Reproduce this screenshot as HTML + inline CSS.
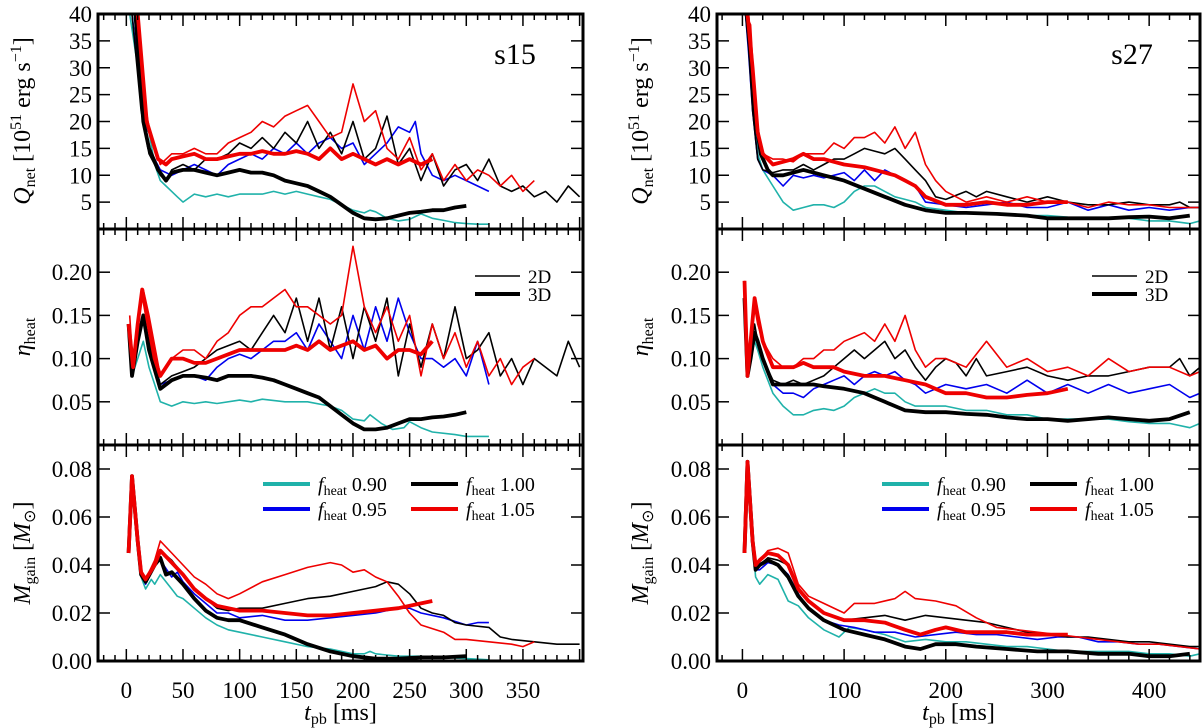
<!DOCTYPE html>
<html><head><meta charset="utf-8"><style>
html,body{margin:0;padding:0;background:#fff;}
svg{display:block;font-family:"Liberation Serif",serif;}
</style></head><body>
<svg id="fig" width="1203" height="728" viewBox="0 0 1203 728" xmlns="http://www.w3.org/2000/svg"></svg>
<script>
// ---------- data (t in ms, value) ----------
const s15_Q_c09=[[3,40],[8,33],[12,28],[16,19],[20,18],[25,12],[30,9],[35,8],[40,7],[45,6],[50,5],[60,6.5],[70,6],[80,6.5],[90,6],[100,6.5],[110,6.5],[120,6.5],[130,7],[140,6.5],[150,7],[160,6.5],[170,6],[180,5.5],[190,4.5],[200,3.5],[210,3],[215,3.5],[220,3.2],[230,2],[240,1.5],[250,1.8],[260,2.8],[270,2],[280,1.6],[290,1.2],[300,1],[310,0.9],[320,0.9]];
const s15_Q_c095=[[5,40],[13,25],[20,15],[30,11],[40,10],[50,11],[60,12],[70,11],[80,10],[90,12],[100,13],[110,14],[120,13],[130,15],[140,14],[150,16],[160,14],[170,16],[180,17],[190,15],[200,16],[210,12],[220,14],[230,16],[240,19],[250,18],[255,20],[260,14],[270,10],[280,9],[290,10],[300,9],[310,8],[320,7]];
const s15_Q_c100=[[5,40],[13,22],[20,14],[30,10],[35,9],[40,11],[50,12],[60,11],[70,13],[80,13],[90,14],[100,16],[110,15],[120,17],[130,15],[140,18],[150,16],[160,20],[170,15],[180,18],[190,14],[200,20],[210,13],[220,15],[230,21],[240,12],[250,15],[260,9],[270,14],[280,8],[290,11],[300,12],[310,9],[320,13],[330,8],[340,7],[350,8],[360,6],[370,7],[380,5],[390,8],[400,6]];
const s15_Q_c105=[[8,40],[15,25],[20,19],[30,12],[40,14],[50,14],[60,15],[70,14],[80,14],[90,16],[100,17],[110,18],[120,20],[130,19],[140,21],[150,22],[160,23],[170,20],[180,17],[190,18],[200,27],[210,20],[220,22],[230,15],[240,13],[250,17],[260,11],[270,14],[280,9],[290,12],[300,9],[310,11],[320,10],[330,8],[340,10],[350,7],[360,9]];
const s15_Q_3d100=[[8,40],[15,20],[20,15],[28,11],[35,9],[40,10.5],[50,11],[60,11],[70,10.5],[80,10],[90,10.5],[100,11],[110,10.5],[120,10.5],[130,10],[140,9],[150,8.5],[160,8],[170,7],[180,6],[190,4.5],[200,3],[210,2],[220,1.8],[230,2],[240,2.5],[250,3],[260,3.2],[270,3.5],[280,3.5],[290,4],[300,4.3]];
const s15_Q_3d105=[[10,40],[14,30],[18,20],[28,13],[35,12],[40,13],[50,13.5],[60,14],[70,13],[80,13],[90,13.5],[100,14],[110,14],[120,14.5],[130,14],[140,14],[150,14.5],[160,14],[170,13],[180,15],[190,13],[200,14],[210,13],[220,12],[230,13],[240,12],[250,13],[260,12],[270,13]];
const s15_E_c09=[[2,0.14],[5,0.08],[10,0.1],[15,0.12],[20,0.09],[25,0.07],[30,0.05],[40,0.045],[50,0.05],[60,0.048],[70,0.05],[80,0.048],[100,0.052],[110,0.05],[120,0.053],[140,0.05],[160,0.05],[180,0.045],[190,0.04],[200,0.03],[210,0.028],[215,0.035],[225,0.025],[235,0.018],[245,0.02],[250,0.027],[260,0.02],[270,0.015],[290,0.012],[300,0.01],[320,0.01]];
const s15_E_c095=[[2,0.14],[5,0.08],[10,0.13],[15,0.15],[20,0.12],[30,0.07],[40,0.075],[50,0.08],[60,0.08],[70,0.075],[80,0.09],[90,0.1],[100,0.105],[110,0.1],[120,0.11],[130,0.12],[140,0.12],[150,0.13],[160,0.11],[170,0.14],[180,0.12],[190,0.1],[200,0.15],[210,0.11],[220,0.16],[230,0.12],[240,0.17],[250,0.13],[260,0.1],[270,0.1],[280,0.09],[290,0.1],[300,0.08],[310,0.12],[320,0.07]];
const s15_E_c100=[[2,0.14],[5,0.08],[10,0.13],[15,0.15],[20,0.12],[30,0.07],[40,0.08],[50,0.085],[60,0.09],[70,0.1],[80,0.11],[90,0.115],[100,0.12],[110,0.11],[120,0.13],[130,0.15],[140,0.13],[150,0.17],[160,0.12],[170,0.17],[180,0.11],[190,0.16],[200,0.1],[210,0.16],[220,0.12],[230,0.17],[240,0.08],[250,0.14],[260,0.09],[270,0.14],[280,0.1],[290,0.16],[300,0.1],[310,0.11],[320,0.13],[330,0.08],[340,0.1],[350,0.07],[360,0.1],[370,0.09],[380,0.08],[390,0.12],[400,0.09]];
const s15_E_c105=[[3,0.15],[6,0.09],[10,0.14],[15,0.18],[20,0.15],[30,0.08],[40,0.1],[50,0.11],[60,0.11],[70,0.1],[80,0.12],[90,0.13],[100,0.15],[110,0.16],[120,0.16],[130,0.17],[140,0.18],[150,0.16],[160,0.16],[170,0.15],[180,0.14],[190,0.15],[200,0.23],[210,0.16],[220,0.13],[230,0.16],[240,0.12],[250,0.15],[260,0.08],[270,0.14],[280,0.1],[290,0.13],[300,0.09],[310,0.12],[320,0.08],[330,0.1],[340,0.07],[350,0.09],[360,0.1]];
const s15_E_3d100=[[2,0.14],[5,0.08],[10,0.12],[15,0.15],[20,0.11],[30,0.065],[40,0.075],[50,0.08],[60,0.08],[70,0.078],[80,0.075],[90,0.08],[100,0.08],[110,0.08],[120,0.078],[130,0.075],[140,0.07],[150,0.065],[160,0.06],[170,0.055],[180,0.045],[190,0.035],[200,0.025],[210,0.018],[220,0.018],[230,0.02],[240,0.025],[250,0.03],[260,0.03],[270,0.032],[280,0.033],[290,0.035],[300,0.038]];
const s15_E_3d105=[[2,0.14],[6,0.09],[10,0.14],[14,0.18],[18,0.15],[25,0.1],[30,0.08],[40,0.1],[50,0.1],[60,0.095],[70,0.095],[80,0.1],[90,0.105],[100,0.11],[110,0.11],[120,0.11],[130,0.11],[140,0.11],[150,0.115],[160,0.11],[170,0.12],[180,0.11],[190,0.115],[200,0.12],[210,0.11],[220,0.115],[230,0.1],[240,0.11],[250,0.11],[260,0.105],[270,0.12]];
const s15_M_c09=[[2,0.045],[5,0.077],[10,0.05],[13,0.035],[17,0.03],[22,0.034],[25,0.032],[30,0.036],[40,0.03],[45,0.027],[50,0.026],[60,0.022],[70,0.018],[80,0.015],[90,0.013],[100,0.012],[120,0.01],[140,0.008],[160,0.006],[180,0.005],[200,0.003],[210,0.003],[215,0.004],[220,0.003],[240,0.002],[260,0.002],[280,0.0015],[300,0.001],[320,0.0005]];
const s15_M_c095=[[2,0.045],[5,0.077],[10,0.05],[13,0.036],[17,0.032],[25,0.04],[30,0.042],[40,0.035],[45,0.037],[50,0.033],[60,0.028],[70,0.024],[80,0.02],[90,0.02],[100,0.018],[120,0.019],[140,0.017],[160,0.017],[180,0.018],[200,0.019],[220,0.02],[240,0.022],[250,0.022],[260,0.02],[280,0.018],[300,0.015],[310,0.016],[320,0.016]];
const s15_M_c100=[[2,0.045],[5,0.077],[10,0.05],[13,0.037],[17,0.034],[25,0.04],[30,0.046],[40,0.042],[50,0.036],[60,0.03],[70,0.026],[80,0.022],[90,0.021],[100,0.022],[120,0.022],[140,0.024],[160,0.026],[180,0.027],[200,0.029],[220,0.031],[230,0.033],[240,0.032],[250,0.028],[260,0.022],[270,0.02],[280,0.019],[290,0.016],[300,0.015],[320,0.014],[330,0.01],[340,0.009],[360,0.008],[380,0.007],[400,0.007]];
const s15_M_c105=[[2,0.045],[5,0.077],[10,0.05],[13,0.037],[17,0.034],[25,0.042],[30,0.05],[40,0.045],[50,0.04],[60,0.035],[70,0.032],[80,0.028],[90,0.026],[100,0.028],[120,0.033],[140,0.036],[160,0.039],[180,0.041],[190,0.04],[200,0.037],[210,0.038],[220,0.035],[230,0.033],[240,0.027],[250,0.02],[260,0.015],[280,0.012],[290,0.009],[300,0.009],[320,0.008],[340,0.007],[350,0.006],[360,0.008]];
const s15_M_3d100=[[2,0.045],[5,0.077],[10,0.05],[13,0.036],[17,0.033],[25,0.04],[30,0.043],[35,0.036],[40,0.037],[50,0.032],[60,0.026],[70,0.021],[80,0.018],[90,0.017],[100,0.017],[120,0.014],[140,0.011],[160,0.007],[180,0.004],[200,0.002],[220,0.001],[240,0.001],[260,0.0015],[280,0.0015],[300,0.002]];
const s15_M_3d105=[[2,0.045],[5,0.077],[10,0.05],[13,0.037],[17,0.034],[25,0.04],[30,0.046],[40,0.041],[50,0.036],[60,0.03],[70,0.026],[80,0.023],[90,0.022],[100,0.021],[120,0.021],[140,0.02],[160,0.019],[180,0.019],[200,0.02],[220,0.021],[240,0.022],[260,0.024],[270,0.025]];
const s27_Q_c09=[[3,40],[6,35],[8,30],[10,25],[15,14],[20,11],[30,8],[40,5],[50,3.5],[60,4],[70,4.5],[80,4.5],[90,4],[100,5],[110,7],[120,8],[130,8],[140,7],[150,6],[160,5.5],[170,5],[180,4],[200,3.5],[220,3],[250,3],[280,2.5],[300,2.5],[320,2.2],[350,2],[380,2],[400,1.5],[420,1.5],[440,1],[450,1.5]];
const s27_Q_c095=[[3,40],[6,33],[10,22],[15,13],[20,11],[30,10],[40,8],[50,10],[60,9.5],[70,10],[80,9.5],[90,10],[100,10.5],[110,9],[120,11],[130,9],[140,11],[150,10],[160,9],[170,8],[180,5],[200,4.5],[220,4],[240,4.5],[260,5],[280,4],[300,4],[320,5],[340,3.5],[360,4.5],[380,3.5],[400,4],[420,3.5],[440,4],[450,4]];
const s27_Q_c100=[[3,40],[6,34],[10,22],[15,13],[20,11],[30,10.5],[40,11],[50,11],[60,12],[70,11],[80,12],[90,13],[100,13],[110,14],[120,15],[130,14.5],[140,14],[150,15],[160,13],[170,11],[180,9],[190,6],[200,5.5],[220,7],[230,6],[240,7],[260,6],[280,5],[300,6],[320,5],[340,4.5],[360,4.5],[380,5],[400,4.5],[420,4.5],[430,5],[440,4],[450,4]];
const s27_Q_c105=[[3,40],[8,38],[12,25],[15,18],[20,14],[30,13],[40,13],[50,12.5],[60,14],[70,14],[80,14],[90,16],[100,15],[110,17],[120,17],[130,18],[140,16],[150,19],[160,15],[170,18],[180,12],[190,9],[200,7],[220,5],[240,6],[260,5],[280,6],[300,5],[320,5],[340,4],[360,5],[380,4.5],[400,4.5],[420,4],[440,4],[450,4]];
const s27_Q_3d100=[[5,40],[8,32],[12,22],[18,14],[25,11],[30,10],[40,10],[50,10.5],[60,11],[70,10.5],[80,10],[90,9.5],[100,9],[120,7.5],[140,6],[160,4.5],[180,3.5],[200,3],[220,3],[250,2.8],[280,2.5],[300,2],[330,2],[360,2],[380,2.2],[400,2.3],[420,2],[440,2.5]];
const s27_Q_3d105=[[5,40],[10,30],[15,18],[20,14],[30,12],[40,12.5],[50,13],[60,14],[70,13],[80,13],[90,12.5],[100,12],[120,11.5],[140,10.5],[150,10],[160,9],[170,8],[180,6],[200,4.5],[220,4.5],[240,5],[260,4.5],[280,4.5],[300,5],[320,5]];
const s27_E_c09=[[2,0.17],[5,0.08],[8,0.1],[12,0.12],[15,0.11],[20,0.09],[30,0.06],[40,0.045],[50,0.035],[60,0.035],[70,0.04],[80,0.042],[90,0.04],[100,0.045],[110,0.055],[120,0.06],[130,0.065],[140,0.06],[150,0.06],[160,0.05],[170,0.045],[180,0.045],[200,0.045],[220,0.04],[240,0.04],[260,0.035],[280,0.035],[300,0.03],[320,0.03],[340,0.03],[360,0.03],[380,0.027],[400,0.025],[420,0.025],[440,0.02],[450,0.025]];
const s27_E_c095=[[2,0.17],[5,0.08],[8,0.1],[12,0.13],[15,0.12],[20,0.1],[30,0.07],[40,0.06],[50,0.06],[60,0.055],[70,0.065],[80,0.07],[90,0.075],[100,0.08],[110,0.07],[120,0.08],[130,0.085],[140,0.08],[150,0.085],[160,0.075],[170,0.07],[180,0.06],[200,0.07],[220,0.065],[240,0.07],[260,0.06],[280,0.075],[300,0.06],[320,0.07],[340,0.06],[360,0.07],[380,0.06],[400,0.065],[420,0.07],[440,0.055],[450,0.06]];
const s27_E_c100=[[2,0.17],[5,0.08],[8,0.1],[12,0.14],[15,0.12],[20,0.1],[30,0.075],[40,0.07],[50,0.075],[60,0.07],[70,0.075],[80,0.08],[90,0.09],[100,0.1],[110,0.11],[120,0.1],[130,0.11],[140,0.12],[150,0.1],[160,0.11],[170,0.09],[180,0.075],[190,0.09],[200,0.1],[210,0.095],[220,0.08],[230,0.1],[240,0.08],[260,0.085],[280,0.09],[300,0.08],[320,0.075],[340,0.08],[360,0.08],[380,0.085],[400,0.09],[420,0.09],[430,0.1],[440,0.08],[450,0.09]];
const s27_E_c105=[[2,0.19],[5,0.08],[8,0.12],[12,0.16],[15,0.14],[20,0.12],[30,0.1],[40,0.09],[50,0.09],[60,0.1],[70,0.1],[80,0.11],[90,0.11],[100,0.12],[110,0.125],[120,0.13],[130,0.12],[140,0.14],[150,0.12],[160,0.15],[170,0.11],[180,0.09],[190,0.1],[200,0.1],[220,0.09],[240,0.12],[260,0.09],[280,0.1],[300,0.085],[320,0.09],[340,0.08],[360,0.1],[380,0.085],[400,0.09],[420,0.09],[440,0.08],[450,0.085]];
const s27_E_3d100=[[2,0.17],[5,0.08],[8,0.1],[12,0.13],[15,0.12],[20,0.1],[30,0.07],[40,0.07],[50,0.07],[60,0.07],[70,0.07],[80,0.068],[100,0.065],[120,0.06],[140,0.05],[160,0.04],[180,0.038],[200,0.038],[220,0.036],[240,0.035],[260,0.032],[280,0.03],[300,0.03],[320,0.028],[340,0.03],[360,0.032],[380,0.03],[400,0.028],[420,0.03],[440,0.038]];
const s27_E_3d105=[[2,0.19],[5,0.08],[8,0.12],[12,0.17],[15,0.15],[20,0.12],[30,0.09],[40,0.09],[50,0.09],[60,0.095],[70,0.09],[80,0.09],[90,0.09],[100,0.085],[120,0.08],[140,0.08],[160,0.075],[180,0.07],[200,0.06],[220,0.06],[240,0.055],[260,0.055],[280,0.058],[300,0.06],[320,0.065]];
const s27_M_c09=[[2,0.045],[5,0.083],[10,0.05],[13,0.035],[17,0.032],[25,0.036],[35,0.034],[45,0.025],[55,0.023],[65,0.018],[80,0.013],[95,0.01],[105,0.014],[120,0.013],[140,0.011],[160,0.008],[180,0.009],[200,0.008],[220,0.008],[240,0.007],[260,0.006],[280,0.006],[300,0.005],[320,0.004],[340,0.004],[360,0.004],[380,0.004],[400,0.003],[420,0.003],[440,0.002],[450,0.003]];
const s27_M_c095=[[2,0.045],[5,0.083],[10,0.05],[13,0.038],[17,0.038],[25,0.041],[35,0.04],[45,0.036],[55,0.028],[65,0.022],[80,0.017],[95,0.015],[110,0.014],[130,0.012],[150,0.012],[170,0.01],[190,0.011],[210,0.012],[230,0.011],[250,0.011],[270,0.01],[290,0.009],[310,0.01],[330,0.01],[350,0.008],[370,0.008],[390,0.007],[410,0.007],[430,0.006],[450,0.005]];
const s27_M_c100=[[2,0.045],[5,0.083],[10,0.05],[13,0.04],[17,0.04],[25,0.043],[35,0.042],[45,0.04],[55,0.03],[65,0.025],[80,0.02],[100,0.017],[120,0.018],[140,0.019],[160,0.017],[180,0.019],[200,0.018],[220,0.017],[240,0.016],[260,0.014],[280,0.012],[300,0.011],[320,0.01],[340,0.01],[360,0.009],[380,0.008],[400,0.008],[420,0.007],[440,0.006],[450,0.006]];
const s27_M_c105=[[2,0.045],[5,0.083],[10,0.05],[13,0.04],[17,0.042],[25,0.046],[35,0.047],[45,0.045],[55,0.032],[65,0.027],[80,0.024],[100,0.02],[110,0.024],[130,0.024],[150,0.026],[160,0.029],[170,0.026],[190,0.025],[210,0.023],[230,0.018],[250,0.014],[270,0.013],[290,0.012],[310,0.011],[330,0.01],[350,0.009],[370,0.008],[390,0.007],[410,0.007],[430,0.006],[450,0.005]];
const s27_M_3d100=[[2,0.045],[5,0.083],[10,0.05],[13,0.038],[17,0.04],[25,0.042],[35,0.04],[45,0.035],[55,0.027],[65,0.022],[80,0.017],[100,0.013],[120,0.011],[140,0.009],[160,0.006],[175,0.005],[190,0.007],[210,0.007],[230,0.006],[260,0.005],[290,0.004],[320,0.004],[350,0.003],[380,0.003],[400,0.002],[420,0.002],[440,0.003]];
const s27_M_3d105=[[2,0.045],[5,0.083],[10,0.05],[13,0.04],[17,0.042],[25,0.045],[35,0.044],[45,0.04],[55,0.03],[65,0.025],[80,0.02],[100,0.017],[120,0.017],[140,0.016],[160,0.013],[175,0.011],[190,0.013],[200,0.014],[220,0.012],[240,0.012],[260,0.012],[280,0.011],[300,0.011],[320,0.011]];

const xTicksL=[0,50,100,150,200,250,300,350];
const xTicksR=[0,100,200,300,400];
const qTicks=[5,10,15,20,25,30,35,40];
const eTicks=[0.05,0.10,0.15,0.20];
const mTicks=[0.00,0.02,0.04,0.06,0.08];

// ---------- drawing ----------
const NS="http://www.w3.org/2000/svg";
const svg=document.getElementById('fig');
function el(tag,attrs,parent){const e=document.createElementNS(NS,tag);for(const k in attrs)e.setAttribute(k,attrs[k]);(parent||svg).appendChild(e);return e;}
const COL={c09:'#20b2aa',c095:'#0000ee',c100:'#000',c105:'#ee0000'};
const cols=[
 {name:'s15',x0:98,x1:583,tmin:-25,tmax:403,ticks:xTicksL,minor:10,ylabX:22,
  sets:[[s15_Q_c09,s15_Q_c095,s15_Q_c100,s15_Q_c105,s15_Q_3d100,s15_Q_3d105],[s15_E_c09,s15_E_c095,s15_E_c100,s15_E_c105,s15_E_3d100,s15_E_3d105],[s15_M_c09,s15_M_c095,s15_M_c100,s15_M_c105,s15_M_3d100,s15_M_3d105]]},
 {name:'s27',x0:717,x1:1200,tmin:-25,tmax:450,ticks:xTicksR,minor:20,ylabX:640,
  sets:[[s27_Q_c09,s27_Q_c095,s27_Q_c100,s27_Q_c105,s27_Q_3d100,s27_Q_3d105],[s27_E_c09,s27_E_c095,s27_E_c100,s27_E_c105,s27_E_3d100,s27_E_3d105],[s27_M_c09,s27_M_c095,s27_M_c100,s27_M_c105,s27_M_3d100,s27_M_3d105]]}
];
const rows=[
 {y0:229,y1:14,vmin:0,vmax:40,ticks:qTicks,fmt:v=>String(v),key:'q'},
 {y0:445,y1:229,vmin:0,vmax:0.25,ticks:eTicks,fmt:v=>v.toFixed(2),key:'eta'},
 {y0:661,y1:445,vmin:0,vmax:0.09,ticks:mTicks,fmt:v=>v.toFixed(2),key:'mgain'}
];
const seriesMeta=[['c09',1.6],['c095',1.6],['c100',1.6],['c105',1.6],['c100',3.8],['c105',3.8]];

cols.forEach((c,ci)=>{
  const xs=t=>c.x0+(t-c.tmin)/(c.tmax-c.tmin)*(c.x1-c.x0);
  rows.forEach((r,ri)=>{
    const ys=v=>r.y0-(v-r.vmin)/(r.vmax-r.vmin)*(r.y0-r.y1);
    const g=el('g',{});
    
    
    const cid='clip'+ci+ri;
    const cp=el('clipPath',{id:cid},g);el('rect',{x:c.x0,y:r.y1,width:c.x1-c.x0,height:r.y0-r.y1},cp);
    const lg=el('g',{'clip-path':'url(#'+cid+')'},g);
    c.sets[ri].forEach((data,si)=>{
      const [ck,w]=seriesMeta[si];
      const d=data.map((p,i)=>(i?'L':'M')+xs(p[0]).toFixed(1)+','+ys(p[1]).toFixed(1)).join('');
      const p=el('path',{d:d,fill:'none',stroke:COL[ck],'stroke-width':w,'stroke-linejoin':'round'},lg);
      
      
    });
    for(let t=Math.ceil(c.tmin/c.minor)*c.minor;t<=c.tmax;t+=c.minor){
      const major=c.ticks.includes(t)||(t%(c.minor*5)===0);
      const L=major?12:6,x=xs(t);
      el('line',{x1:x,x2:x,y1:r.y0,y2:r.y0-L,stroke:'#000','stroke-width':1.5},g);
      el('line',{x1:x,x2:x,y1:r.y1,y2:r.y1+L,stroke:'#000','stroke-width':1.5},g);
    }
    r.ticks.forEach(v=>{
      const y=ys(v);
      el('line',{x1:c.x0,x2:c.x0+12,y1:y,y2:y,stroke:'#000','stroke-width':1.5},g);
      el('line',{x1:c.x1,x2:c.x1-12,y1:y,y2:y,stroke:'#000','stroke-width':1.5},g);
      const tx=el('text',{x:c.x0-6,y:y+8,'text-anchor':'end','font-size':23},g);
      tx.textContent=r.fmt(v);
      
      
    });
    el('rect',{x:c.x0,y:r.y1,width:c.x1-c.x0,height:r.y0-r.y1,fill:'none',stroke:'#000','stroke-width':3},g);
  });
  c.ticks.forEach(t=>{
    const tx=el('text',{x:xs(t),y:698,'text-anchor':'middle','font-size':23});
    tx.textContent=String(t);
    
    
  });
  const xt=el('text',{x:(c.x0+c.x1)/2,y:720,'text-anchor':'middle','font-size':24});
  xt.innerHTML='<tspan font-style="italic">t</tspan><tspan font-size="16" dy="4">pb</tspan><tspan dy="-4"> [ms]</tspan>';
  
  
  const yl=[[121,'<tspan font-style="italic">Q</tspan><tspan font-size="16" dy="5">net</tspan><tspan dy="-5"> [10</tspan><tspan font-size="16" dy="-9">51</tspan><tspan dy="9"> erg s</tspan><tspan font-size="16" dy="-9">−1</tspan><tspan dy="9">]</tspan>','q-axis-title'],
            [337,'<tspan font-style="italic">η</tspan><tspan font-size="16" dy="5">heat</tspan>','eta-axis-title'],
            [553,'<tspan font-style="italic">M</tspan><tspan font-size="16" dy="5">gain</tspan><tspan dy="-5"> [</tspan><tspan font-style="italic">M</tspan><tspan font-size="16" dy="5">⊙</tspan><tspan dy="-5">]</tspan>','mgain-axis-title']];
  yl.forEach(([cy,h,n])=>{
    const t=el('text',{x:0,y:0,'text-anchor':'middle','font-size':24,transform:`translate(${c.ylabX+8},${cy}) rotate(-90)`});
    t.innerHTML=h;
    
    
  });
  const ml=el('text',{x:c.x1-68,y:64,'text-anchor':'middle','font-size':30});
  ml.textContent=c.name;
  
  
  const lx=c.x1-108;
  el('line',{x1:lx,x2:lx+45,y1:276,y2:276,stroke:'#000','stroke-width':1.6});
  el('line',{x1:lx,x2:lx+45,y1:294,y2:294,stroke:'#000','stroke-width':4});
  const l2=el('text',{x:lx+53,y:283,'font-size':19});l2.textContent='2D';
  
  
  const l3=el('text',{x:lx+53,y:301,'font-size':19});l3.textContent='3D';
  
  
  const fx=c.x0+165;
  [['c09','0.90',0,484],['c100','1.00',148,484],['c095','0.95',0,509],['c105','1.05',148,509]].forEach(([ck,lab,dx,y])=>{
    el('line',{x1:fx+dx,x2:fx+dx+47,y1:y,y2:y,stroke:COL[ck],'stroke-width':4});
    const t=el('text',{x:fx+dx+55,y:y+7,'font-size':20});
    t.innerHTML='<tspan font-style="italic">f</tspan><tspan font-size="14" dy="4">heat</tspan><tspan dy="-4"> '+lab+'</tspan>';
    
    
  });
});
</script>
</body></html>
